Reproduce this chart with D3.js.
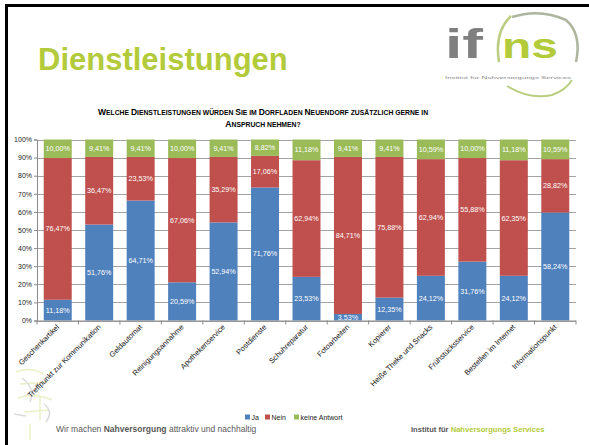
<!DOCTYPE html>
<html>
<head>
<meta charset="utf-8">
<script src="https://cdn.jsdelivr.net/npm/d3@7"></script>
<style>
  body { margin: 0; background: #fff; }
  text { font-family: "Liberation Sans", Arial, sans-serif; }
</style>
</head>
<body>
<div id="graph"></div>
<script>
const width = 589;
const height = 445;

// data
const categories = [
  "Geschenkartikel", "Treffpunkt zur Kommunikation", "Geldautomat", "Reinigungsannahme",
  "Apothekenservice", "Postdienste", "Schuhreparatur", "Fotoarbeiten", "Kopierer",
  "Heiße Theke und Snacks", "Frühstücksservice", "Bestellen im Internet", "Informationspunkt"
];
const ja    = [11.18, 51.76, 64.71, 20.59, 52.94, 71.76, 23.53, 3.53, 12.35, 24.12, 31.76, 24.12, 58.24];
const nein  = [76.47, 36.47, 23.53, 67.06, 35.29, 17.06, 62.94, 84.71, 75.88, 62.94, 55.88, 62.35, 28.82];
const keine = [10.00, 9.41, 9.41, 10.00, 9.41, 8.82, 11.18, 9.41, 9.41, 10.59, 10.00, 11.18, 10.59];
const seriesNames = ["Ja", "Nein", "keine Antwort"];
const seriesColors = ["#4f81bd", "#c0504d", "#9bbb59"];
const yTicks = [0, 0.1, 0.2, 0.3, 0.4, 0.5, 0.6, 0.7, 0.8, 0.9, 1];

const green = "#b3cb3a";
const grey = "#595959";

const svg = d3.select("#graph")
  .append("svg")
  .attr("width", width)
  .attr("height", height)
  .style("background", "#fff");

// slide frame (black edge top + left)
svg.append("line").attr("x1", 5).attr("x2", width).attr("y1", 5.5).attr("y2", 5.5)
  .attr("stroke", "#000").attr("stroke-width", 3);
svg.append("line").attr("x1", 6.5).attr("x2", 6.5).attr("y1", 4).attr("y2", height)
  .attr("stroke", "#000").attr("stroke-width", 3);

// headline
svg.append("text")
  .attr("x", 38).attr("y", 70)
  .attr("font-size", 31).attr("font-weight", "bold")
  .attr("fill", green)
  .text("Dienstleistungen");

// logo, roughly
const logo = svg.append("g").attr("fill", "none");
logo.append("path")
  .attr("d", "M511,16 Q494,32 499,62")
  .attr("stroke", "#a9c060").attr("stroke-width", 2.5).attr("opacity", 0.8);
logo.append("path")
  .attr("d", "M512,17 Q540,8 566,20 Q582,34 576,62")
  .attr("stroke", "#98a386").attr("stroke-width", 2.5).attr("opacity", 0.8);
logo.append("path")
  .attr("d", "M507,86 Q530,100 552,95 Q566,90 572,80")
  .attr("stroke", "#a9c060").attr("stroke-width", 2).attr("opacity", 0.8);
logo.append("text")
  .attr("x", 445).attr("y", 58)
  .attr("font-size", 40).attr("font-weight", "bold").attr("fill", "#7f7f7f")
  .attr("textLength", 38).attr("lengthAdjust", "spacingAndGlyphs")
  .text("if");
logo.append("text")
  .attr("x", 502).attr("y", 58)
  .attr("font-size", 35).attr("font-weight", "bold").attr("fill", green)
  .attr("textLength", 56).attr("lengthAdjust", "spacingAndGlyphs")
  .text("ns");
logo.append("text")
  .attr("x", 445).attr("y", 79)
  .attr("font-size", 4).attr("fill", "#8a8a8a")
  .attr("textLength", 126).attr("lengthAdjust", "spacingAndGlyphs")
  .text("Institut für Nahversorgungs Services");

// faint decoration bottom left
const deco = svg.append("g").attr("opacity", 0.35).attr("fill", "none").attr("stroke-width", 1.5);
deco.append("path").attr("d", "M16,372 Q30,366 44,374 M20,384 L48,382 M18,398 Q34,392 52,400 M24,412 L50,410 M30,424 L30,440 M40,396 L40,420")
  .attr("stroke", "#c8d860");
deco.append("path").attr("d", "M22,378 Q36,388 30,402 M44,404 Q54,412 46,422 M14,414 L26,416")
  .attr("stroke", "#9a9a9a");

// chart title in small caps
function smallCaps(sel, str, big, small) {
  str.split(/(\s+)/).forEach(w => {
    if (!w.trim()) { sel.append("tspan").attr("font-size", small).text(" "); return; }
    const first = w[0];
    if (first !== first.toLowerCase()) {
      sel.append("tspan").attr("font-size", big).text(first);
      sel.append("tspan").attr("font-size", small).text(w.slice(1).toUpperCase());
    } else {
      sel.append("tspan").attr("font-size", small).text(w.toUpperCase());
    }
  });
}
const t1 = svg.append("text").attr("x", 263).attr("y", 115)
  .attr("text-anchor", "middle").attr("font-weight", "bold").attr("fill", "#000");
smallCaps(t1, "Welche Dienstleistungen würden Sie im Dorfladen Neuendorf zusätzlich gerne in", 8.5, 6.8);
const t2 = svg.append("text").attr("x", 263).attr("y", 127)
  .attr("text-anchor", "middle").attr("font-weight", "bold").attr("fill", "#000");
smallCaps(t2, "Anspruch nehmen?", 8.5, 6.8);

// chart
const plotLeft = 37, plotRight = 576, plotTop = 139.5, plotBottom = 320.5;

const x = d3.scaleBand()
  .domain(categories)
  .range([plotLeft, plotRight])
  .paddingInner(0.325)
  .paddingOuter(0.1625);

const y = d3.scaleLinear()
  .domain([0, 1])
  .range([plotBottom, plotTop]);

const rows = categories.map((c, i) => ({ cat: c, "Ja": ja[i], "Nein": nein[i], "keine Antwort": keine[i] }));
const stacked = d3.stack().keys(seriesNames).offset(d3.stackOffsetExpand)(rows);

// gridlines
svg.append("g")
  .selectAll("line")
  .data(yTicks)
  .join("line")
  .attr("x1", plotLeft).attr("x2", plotRight)
  .attr("y1", d => Math.round(y(d)) + 0.5).attr("y2", d => Math.round(y(d)) + 0.5)
  .attr("stroke", "#8c8c8c").attr("stroke-width", 0.8);

// y axis
const yAxis = svg.append("g")
  .attr("transform", `translate(${plotLeft},0)`)
  .call(d3.axisLeft(y).tickValues(yTicks).tickFormat(d3.format(".0%")).tickSize(3).tickPadding(2));
yAxis.select(".domain").attr("stroke", "#8c8c8c");
yAxis.selectAll(".tick line").attr("stroke", "#8c8c8c");
yAxis.selectAll(".tick text").attr("font-size", 7).attr("fill", "#222")
  .attr("font-family", "Liberation Sans, Arial, sans-serif");

// bars
const fmt = v => d3.format(".2f")(v).replace(".", ",") + "%";
stacked.forEach((s, si) => {
  const g = svg.append("g");
  g.selectAll("rect")
    .data(s)
    .join("rect")
    .attr("x", d => x(d.data.cat))
    .attr("width", x.bandwidth())
    .attr("y", d => y(d[1]))
    .attr("height", d => y(d[0]) - y(d[1]))
    .attr("fill", seriesColors[si]);
  g.selectAll("text")
    .data(s)
    .join("text")
    .attr("x", d => x(d.data.cat) + x.bandwidth() / 2)
    .attr("y", d => (y(d[0]) + y(d[1])) / 2 + 2.5)
    .attr("text-anchor", "middle")
    .attr("font-size", 7.2)
    .attr("fill", "#fff")
    .text(d => fmt(d.data[s.key]));
});

// x axis with ticks between categories
const step = x.step();
svg.append("line")
  .attr("x1", plotLeft).attr("x2", plotRight).attr("y1", plotBottom + 0.5).attr("y2", plotBottom + 0.5)
  .attr("stroke", "#8c8c8c");
svg.append("g")
  .selectAll("line")
  .data(d3.range(categories.length + 1))
  .join("line")
  .attr("x1", i => plotLeft + i * step).attr("x2", i => plotLeft + i * step)
  .attr("y1", plotBottom).attr("y2", plotBottom + 4)
  .attr("stroke", "#8c8c8c");

svg.append("g")
  .selectAll("text")
  .data(categories)
  .join("text")
  .attr("transform", d => `translate(${x(d) + x.bandwidth() / 2 + 2},${plotBottom + 7}) rotate(-45)`)
  .attr("text-anchor", "end")
  .attr("font-size", 7.5)
  .attr("fill", "#111")
  .text(d => d);

// legend
const legendX = [245, 265, 294];
const legend = svg.append("g");
seriesNames.forEach((name, i) => {
  legend.append("rect")
    .attr("x", legendX[i]).attr("y", 414.5)
    .attr("width", 5).attr("height", 5)
    .attr("fill", seriesColors[i]);
  legend.append("text")
    .attr("x", legendX[i] + 6.5).attr("y", 419.5)
    .attr("font-size", 7).attr("fill", "#222")
    .text(name);
});

// footer
const f1 = svg.append("text").attr("x", 56).attr("y", 432).attr("font-size", 8.5).attr("fill", grey);
f1.append("tspan").text("Wir machen ");
f1.append("tspan").attr("font-weight", "bold").text("Nahversorgung");
f1.append("tspan").text(" attraktiv und nachhaltig");

const f2 = svg.append("text").attr("x", 411).attr("y", 432).attr("font-size", 7.6).attr("font-weight", "bold");
f2.append("tspan").attr("fill", grey).text("Institut für ");
f2.append("tspan").attr("fill", green).text("Nahversorgungs Services");
</script>
</body>
</html>
